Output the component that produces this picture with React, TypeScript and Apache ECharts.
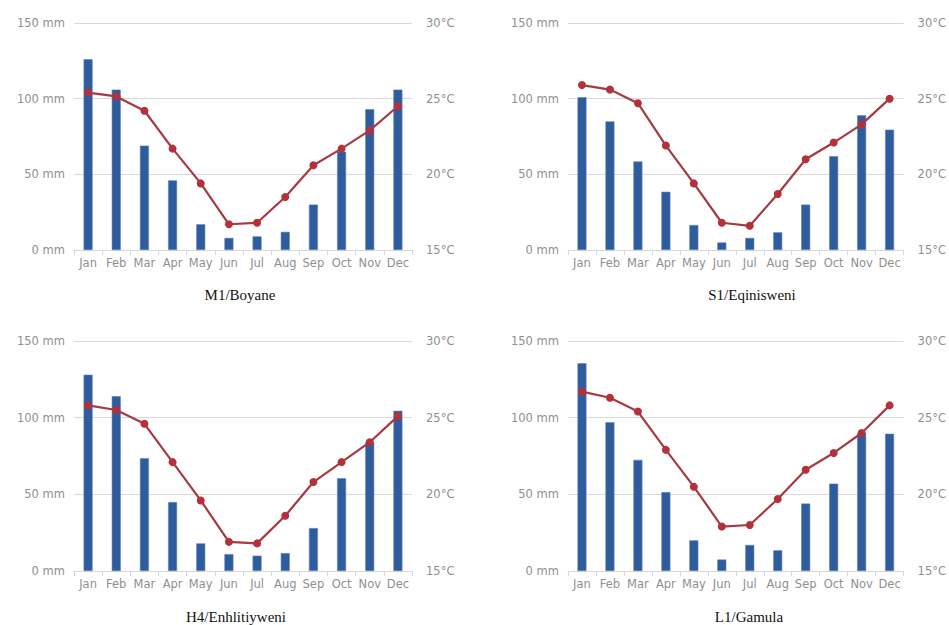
import React, { useEffect, useRef } from "react";
import * as echarts from "echarts";

const months = ["Jan", "Feb", "Mar", "Apr", "May", "Jun", "Jul", "Aug", "Sep", "Oct", "Nov", "Dec"];

const stationNames = ["M1/Boyane", "S1/Eqinisweni", "H4/Enhlitiyweni", "L1/Gamula"];

const rainM1 = [126, 106, 69, 46, 17, 8, 9, 12, 30, 65, 93, 106];
const tempM1 = [25.4, 25.15, 24.2, 21.7, 19.4, 16.7, 16.8, 18.5, 20.6, 21.7, 22.9, 24.5];

const rainS1 = [101, 85, 58.5, 38.5, 16.5, 5, 8, 11.7, 30, 62, 89, 79.5];
const tempS1 = [25.9, 25.6, 24.7, 21.9, 19.4, 16.8, 16.6, 18.7, 21.0, 22.1, 23.3, 25.0];

const rainH4 = [128, 114, 73.5, 45, 18, 11, 10, 11.7, 28, 60.5, 84, 104.5];
const tempH4 = [25.8, 25.5, 24.6, 22.1, 19.6, 16.9, 16.8, 18.6, 20.8, 22.1, 23.4, 25.1];

const rainL1 = [135.5, 97, 72.5, 51.5, 20, 7.5, 17, 13.5, 44, 57, 90, 89.5];
const tempL1 = [26.7, 26.3, 25.4, 22.9, 20.5, 17.9, 18.0, 19.7, 21.6, 22.7, 24.0, 25.8];

const rainTicks = { min: 0, max: 150, interval: 50 };
const tempTicks = { min: 15, max: 30, interval: 5 };

const rainSets = [rainM1, rainS1, rainH4, rainL1];
const tempSets = [tempM1, tempS1, tempH4, tempL1];

export default function App() {
  const ref = useRef<HTMLDivElement>(null);

  useEffect(() => {
    if (!ref.current) return;
    const chart = echarts.init(ref.current, null, { renderer: "svg" });

    const layouts = [
      { left: 74, top: 23, width: 338, height: 227, tx: 240, ty: 295 },
      { left: 568, top: 23, width: 338, height: 227, tx: 752, ty: 295 },
      { left: 74, top: 341, width: 338, height: 230, tx: 236, ty: 617 },
      { left: 568, top: 341, width: 338, height: 230, tx: 749, ty: 617 },
    ];

    const labelFont = { fontFamily: "DejaVu Sans", fontSize: 11.5, color: "#8f8f8f" };

    const grid: any[] = [];
    const xAxis: any[] = [];
    const yAxis: any[] = [];
    const series: any[] = [];
    const graphics: any[] = [];

    layouts.forEach((l, i) => {
      grid.push({ left: l.left, top: l.top, width: l.width, height: l.height, containLabel: false });
      xAxis.push({
        type: "category",
        gridIndex: i,
        data: months,
        boundaryGap: true,
        axisLine: { show: true, lineStyle: { color: "#d8d8d8", width: 1 } },
        axisTick: { show: true, length: 5, lineStyle: { color: "#d8d8d8" } },
        axisLabel: { ...labelFont, margin: 7, interval: 0 },
      });
      yAxis.push({
        type: "value",
        gridIndex: i,
        position: "left",
        ...rainTicks,
        axisLine: { show: false },
        axisTick: { show: false },
        splitLine: { show: true, lineStyle: { color: "#d9d9d9", width: 1 } },
        axisLabel: { ...labelFont, margin: 9, formatter: "{value} mm" },
      });
      yAxis.push({
        type: "value",
        gridIndex: i,
        position: "right",
        ...tempTicks,
        axisLine: { show: false },
        axisTick: { show: false },
        splitLine: { show: false },
        axisLabel: { ...labelFont, margin: 14, formatter: "{value}°C" },
      });
      series.push({
        type: "bar",
        name: "Rainfall",
        xAxisIndex: i,
        yAxisIndex: i * 2,
        data: rainSets[i],
        barWidth: 9,
        itemStyle: { color: "#2e5c9d", borderColor: "#5b83bd", borderWidth: 0.6 },
      });
      series.push({
        type: "line",
        name: "Temperature",
        xAxisIndex: i,
        yAxisIndex: i * 2 + 1,
        data: tempSets[i],
        symbol: "circle",
        symbolSize: 8,
        lineStyle: { color: "#a63a40", width: 2.2 },
        itemStyle: { color: "#b4313b" },
      });
      graphics.push({
        type: "text",
        x: l.tx,
        y: l.ty,
        style: {
          text: stationNames[i],
          font: "15px 'Liberation Serif', 'Times New Roman', serif",
          fill: "#111111",
          textAlign: "center",
          textVerticalAlign: "middle",
        },
      });
    });

    chart.setOption({
      animation: false,
      backgroundColor: "#ffffff",
      grid,
      xAxis,
      yAxis,
      series,
      graphic: graphics,
    });

    return () => chart.dispose();
  }, []);

  return (
    <div
      ref={ref}
      style={{ position: "fixed", left: 0, top: 0, width: 949, height: 625, background: "#fff" }}
    />
  );
}
